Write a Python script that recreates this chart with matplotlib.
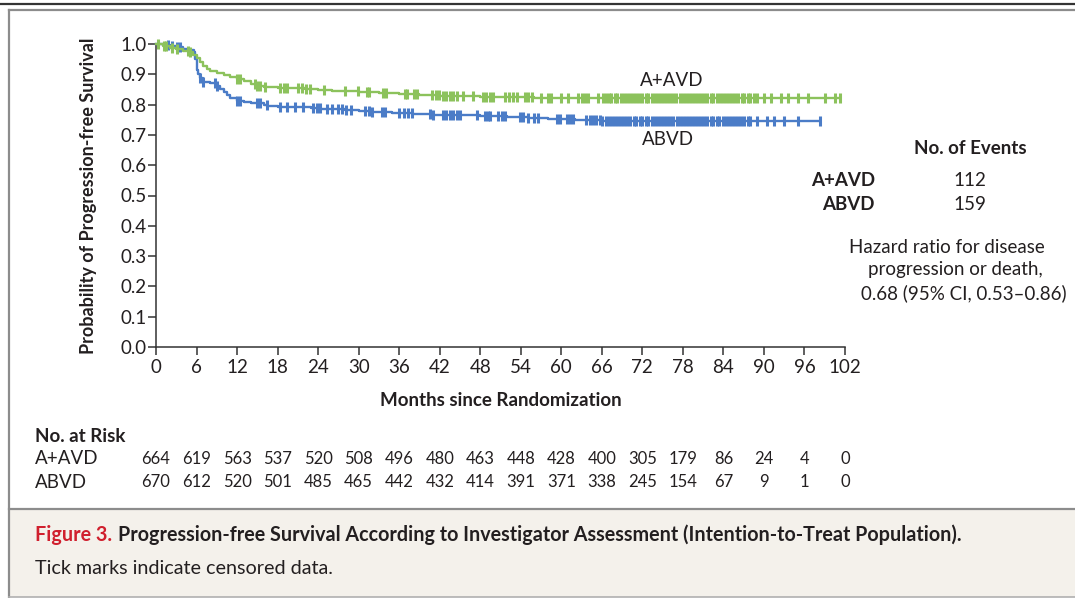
import numpy as np
import matplotlib.pyplot as plt
from matplotlib.transforms import blended_transform_factory
from matplotlib.lines import Line2D
from matplotlib.patches import Rectangle

plt.rcParams['font.family'] = ['Lato', 'DejaVu Sans']

# Kaplan-Meier step curves (month, survival after the step)
avd_t = [0, 1, 2, 3, 4, 5, 5.5, 6, 6.5, 7, 7.5, 8, 9, 10, 11, 12, 13, 14, 15, 16,
         18, 20, 22, 24, 26, 28, 30, 33, 36, 39, 42, 45, 48, 52, 56, 60, 66, 101.3]
avd_s = [1.0, 0.995, 0.988, 0.983, 0.978, 0.972, 0.965, 0.955, 0.94, 0.928, 0.918,
         0.912, 0.903, 0.897, 0.89, 0.886, 0.878, 0.868, 0.861, 0.857, 0.856, 0.854,
         0.851, 0.848, 0.846, 0.844, 0.842, 0.838, 0.835, 0.832, 0.829, 0.827, 0.825,
         0.824, 0.823, 0.822, 0.822, 0.822]

abvd_t = [0, 1, 2, 3, 4, 5, 5.6, 5.8, 6.0, 6.2, 6.5, 7, 8, 8.5, 9, 9.5, 10, 10.5,
          11, 12, 13, 14, 15, 16, 16.5, 18, 21, 23, 24.5, 26, 28, 30, 32, 35, 38,
          41, 44, 48, 52, 55, 58, 62, 66, 98.3]
abvd_s = [1.0, 0.997, 0.993, 0.99, 0.985, 0.98, 0.975, 0.95, 0.915, 0.9, 0.887,
          0.876, 0.872, 0.87, 0.862, 0.852, 0.842, 0.832, 0.822, 0.812, 0.809,
          0.806, 0.804, 0.798, 0.794, 0.793, 0.792, 0.79, 0.786, 0.784, 0.782,
          0.779, 0.776, 0.772, 0.769, 0.767, 0.765, 0.762, 0.758, 0.755, 0.752,
          0.749, 0.746, 0.745]

# censored observations (months)
avd_cens = [0.3, 1.2, 1.5, 2.4, 3.1, 4.8, 5.1, 12.0, 12.4, 14.6, 15.0, 15.4, 16.1,
            18.4, 18.9, 19.4, 21.0, 21.6, 22.2, 22.8, 24.8, 28.0, 29.9, 31.2, 31.6,
            33.6, 34.0, 36.8, 37.2, 38.2, 38.6, 40.9, 41.4, 41.9, 42.5, 43.0, 43.5,
            44.0, 44.5, 45.4, 47.0, 48.4, 48.9, 49.4, 49.9, 51.7, 52.2, 52.8, 53.4,
            54.6, 55.1, 55.6, 57.0, 58.0, 58.5, 60.0, 61.0, 62.5, 63.0, 63.5, 64.0,
            65.5, 66.2, 66.6,
            67.0, 67.4, 67.9, 68.3, 68.8, 69.3, 69.7, 70.2, 70.6, 71.1, 71.5, 72.0,
            72.5, 72.9, 73.4, 73.8, 74.3, 74.8, 75.2, 75.7, 76.1, 76.6, 77.0, 77.5,
            78.0, 78.4, 78.9, 79.3, 79.8, 80.2, 80.7, 81.2, 81.6, 82.1, 82.5, 83.0,
            83.5, 83.9, 84.4, 84.8, 85.3, 85.7, 86.2, 86.7, 87.1, 87.6, 88.0, 88.5,
            89.0, 90.0, 91.0, 92.5, 93.5, 95.0, 96.5, 99.0, 100.5, 101.3]
abvd_cens = [1.8, 2.3, 3.1, 3.6, 6.5, 7.0, 8.7, 9.1, 12.0, 12.4, 15.0, 15.4, 16.4,
             18.4, 19.4, 20.6, 21.8, 23.3, 23.8, 24.3, 25.3, 26.0, 27.0, 27.5, 28.2,
             28.8, 30.9, 31.5, 32.0, 33.5, 33.9, 35.9, 36.7, 37.3, 37.9, 40.5, 41.0,
             42.5, 43.0, 43.5, 44.0, 44.5, 45.0, 47.5, 48.7, 49.1, 49.5, 50.7, 51.2,
             51.7, 53.9, 54.4, 55.0, 56.0, 56.5, 59.3, 59.8, 60.8, 61.3, 61.8, 63.7,
             64.2, 64.7, 65.2, 65.7,
             66.1, 66.6, 67.0, 67.5, 67.9, 68.4, 68.8, 69.3, 69.8, 70.2, 70.7, 71.1,
             71.6, 72.0, 72.5, 72.9, 73.4, 73.9, 74.3, 74.8, 75.2, 75.7, 76.1, 76.6,
             77.1, 77.5, 78.0, 78.4, 78.9, 79.3, 79.8, 80.3, 80.7, 81.2, 81.6, 82.1,
             82.5, 83.0, 83.4, 83.9, 84.4, 84.8, 85.3, 85.7, 86.2, 86.6, 87.1, 87.6,
             88.0, 89.0, 90.5, 91.5, 93.0, 95.0, 98.3]

risk_months = [0, 6, 12, 18, 24, 30, 36, 42, 48, 54, 60, 66, 72, 78, 84, 90, 96, 102]
risk_avd = [664, 619, 563, 537, 520, 508, 496, 480, 463, 448, 428, 400, 305, 179, 86, 24, 4, 0]
risk_abvd = [670, 612, 520, 501, 485, 465, 442, 432, 414, 391, 371, 338, 245, 154, 67, 9, 1, 0]

GREEN = '#8cc25c'
BLUE = '#4b7cc7'
TXT = '#231f20'
W, H = 1075, 598
FS = 13.5


def fx(px):
    return px / W


def fy(py):
    return 1 - py / H


def surv_at(t, times, surv):
    idx = np.searchsorted(times, t, side='right') - 1
    return np.asarray(surv)[idx]


fig = plt.figure(figsize=(W / 100, H / 100), dpi=100)

# frame, rules and caption panel
fig.patches.append(Rectangle((fx(10), fy(597)), 1, fy(509) - fy(597),
                             transform=fig.transFigure, facecolor='#f4f1eb',
                             edgecolor='none', zorder=0))
for x0, y0, x1, y1, c, lw in [(0, 4, W, 4, '#333333', 1.6),
                              (9, 10, W, 10, '#8c8c8c', 1.6),
                              (9, 10, 9, 597, '#8c8c8c', 1.6),
                              (9, 509, W, 509, '#8c8c8c', 1.6),
                              (9, 597, W, 597, '#b0b0b0', 1.2)]:
    fig.lines.append(Line2D([fx(x0), fx(x1)], [fy(y0), fy(y1)],
                            transform=fig.transFigure, color=c, lw=lw))

ax = fig.add_axes([fx(156), fy(347), fx(845) - fx(156), fy(44) - fy(347)])

ax.step(abvd_t, abvd_s, where='post', color=BLUE, lw=1.7, clip_on=False, zorder=3)
ax.step(avd_t, avd_s, where='post', color=GREEN, lw=1.7, clip_on=False, zorder=4)
ax.plot(abvd_cens, surv_at(abvd_cens, abvd_t, abvd_s), ls='none', marker='|',
        ms=6.5, mew=2.2, color=BLUE, clip_on=False, zorder=3)
ax.plot(avd_cens, surv_at(avd_cens, avd_t, avd_s), ls='none', marker='|',
        ms=6.5, mew=2.2, color=GREEN, clip_on=False, zorder=4)

ax.set_xlim(0, 102)
ax.set_ylim(0, 1.0)
ax.set_xticks(risk_months)
ax.set_yticks(np.linspace(0, 1, 11))
ax.set_yticklabels([f'{v:.1f}' for v in np.linspace(0, 1, 11)])
for s in ['top', 'right']:
    ax.spines[s].set_visible(False)
for s in ['left', 'bottom']:
    ax.spines[s].set_color('#333333')
    ax.spines[s].set_linewidth(1.1)
ax.tick_params(axis='both', direction='out', length=5.5, width=1.1,
               color='#333333', labelsize=FS, labelcolor=TXT)
ax.tick_params(axis='y', pad=1)
ax.tick_params(axis='x', pad=3)

ax.text(76.4, 0.878, 'A+AVD', ha='center', va='center', fontsize=FS, color=TXT)
ax.text(75.8, 0.686, 'ABVD', ha='center', va='center', fontsize=FS, color=TXT)

fig.text(fx(89), fy(196), 'Probability of Progression-free Survival', rotation=90,
         ha='center', va='center', fontsize=13, fontweight='bold', color=TXT)
fig.text(fx(501), fy(400), 'Months since Randomization', ha='center', va='center',
         fontsize=13.5, fontweight='bold', color=TXT)

# events and hazard ratio
fig.text(fx(970), fy(149), 'No. of Events', ha='center', va='center',
         fontsize=FS, fontweight='bold', color=TXT)
fig.text(fx(875), fy(181), 'A+AVD', ha='right', va='center', fontsize=FS,
         fontweight='bold', color=TXT)
fig.text(fx(875), fy(204), 'ABVD', ha='right', va='center', fontsize=FS,
         fontweight='bold', color=TXT)
fig.text(fx(970), fy(181), '112', ha='center', va='center', fontsize=FS, color=TXT)
fig.text(fx(970), fy(204), '159', ha='center', va='center', fontsize=FS, color=TXT)
hr_lines = ['Hazard ratio for disease', 'progression or death,',
            '0.68 (95% CI, 0.53\u20130.86)']
for line, cx, py in zip(hr_lines, [947, 955, 964], [247, 270, 293]):
    fig.text(fx(cx), fy(py), line, ha='center', va='center', fontsize=FS, color=TXT)

# number at risk table
tr = blended_transform_factory(ax.transData, fig.transFigure)
fig.text(fx(35), fy(436), 'No. at Risk', ha='left', va='center', fontsize=FS,
         fontweight='bold', color=TXT)
for name, vals, py in [('A+AVD', risk_avd, 459), ('ABVD', risk_abvd, 482)]:
    fig.text(fx(35), fy(py), name, ha='left', va='center', fontsize=FS, color=TXT)
    for m, v in zip(risk_months, vals):
        ax.text(m, fy(py), str(v), transform=tr, ha='center', va='center',
                fontsize=12, color=TXT)

# caption
t1 = fig.text(fx(35), fy(535), 'Figure 3.', ha='left', va='center', fontsize=14.2,
              fontweight='bold', color='#d0202e')
r = fig.canvas.get_renderer()
bb = t1.get_window_extent(r)
fig.text((bb.x1 + 6) / W, fy(535),
         'Progression-free Survival According to Investigator Assessment '
         '(Intention-to-Treat Population).', ha='left', va='center',
         fontsize=14.2, fontweight='bold', color=TXT)
fig.text(fx(35), fy(568), 'Tick marks indicate censored data.', ha='left',
         va='center', fontsize=14.2, color=TXT)

fig.savefig('out.png', dpi=100)
